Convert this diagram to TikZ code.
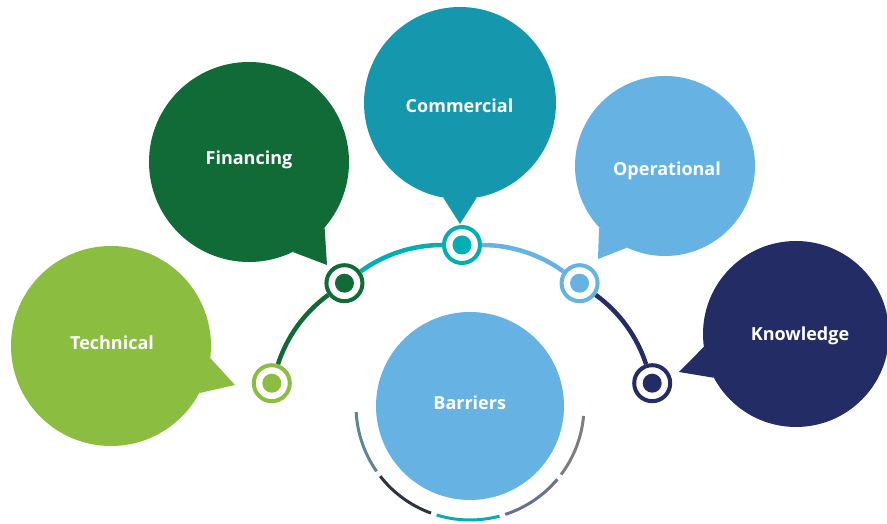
\documentclass[tikz,border=0pt]{standalone}
\usepackage{fontspec}
\setmainfont{Open Sans}
\usepackage{tikz}
\definecolor{techgreen}{HTML}{8BBD41}
\definecolor{fingreen}{HTML}{106B37}
\definecolor{comteal}{HTML}{1598AD}
\definecolor{ringteal}{HTML}{00AEB3}
\definecolor{opblue}{HTML}{66B3E3}
\definecolor{knownavy}{HTML}{242C65}
\definecolor{rimslate}{HTML}{5E8692}
\definecolor{rimdark}{HTML}{2E3340}
\definecolor{rimblue}{HTML}{687090}
\definecolor{rimgrey}{HTML}{7D7D7D}

\begin{document}
\begin{tikzpicture}[x=1pt, y=1pt,
  bubble/.style={circle, fill=#1, inner sep=0pt},
  % fixed height/depth so the node centre is the middle of the capitals
  caption/.style={text=white, inner sep=0pt, text height=12.8pt, text depth=0pt,
    font=\bfseries\fontsize{18}{20}\selectfont},
  ring/.style={circle, draw=#1, fill=white, line width=4pt, inner sep=0pt,
    minimum size=36pt,
    path picture={\fill[#1] (path picture bounding box.center) circle (9.5pt);}},
  link/.style={draw=#1, line width=4.5pt},
  rim/.style={draw=#1, line width=3pt}]

  \useasboundingbox (0,0) rectangle (887,524);

  % the topic bubbles, one centre each, radius from the picture
  \node[bubble=techgreen, minimum size=200pt] (tech) at (111,178) {};
  \node[bubble=fingreen,  minimum size=200pt] (fin)  at (249,362) {};
  \node[bubble=comteal,   minimum size=192pt] (com)  at (460,421) {};
  \node[bubble=opblue,    minimum size=180pt] (op)   at (665,358) {};
  \node[bubble=knownavy,  minimum size=186pt] (know) at (796,190) {};
  \node[bubble=opblue,    minimum size=188pt] (bar)  at (470,118) {};

  % speech tails; the tips stop just short of the rings
  \coordinate (techtip) at (235,139);
  \coordinate (fintip)  at (327,259);
  \coordinate (comtip)  at (460,300);
  \coordinate (optip)   at (598,265);
  \coordinate (knowtip) at (679,152);
  \fill[techgreen] (tech.-7)   -- (tech.-28)   -- (techtip) -- cycle;
  \fill[fingreen]  (fin.-41)   -- (fin.-64)    -- (fintip)  -- cycle;
  \fill[comteal]   (com.-100)  -- (com.-80)    -- (comtip)  -- cycle;
  \fill[opblue]    (op.-137)   -- (op.-115)    -- (optip)   -- cycle;
  \fill[knownavy]  (know.188)  -- (know.208)   -- (knowtip) -- cycle;

  % the words are not quite at the bubble centres
  \node[caption] (techtxt) at (112,180.7)   {Technical};
  \node[caption] (fintxt)  at (249,366.2)   {Financing};
  \node[caption] (comtxt)  at (459.5,417.8) {Commercial};
  \node[caption] (optxt)   at (667,355.3)   {Operational};
  \node[caption] (knowtxt) at (800,189.7)   {Knowledge};
  \node[caption] (bartxt)  at (469.7,121.2) {Barriers};

  % rings sit every 36 degrees on one big circle below Commercial
  \coordinate (hub) at (462,79);
  \foreach \nm/\ang/\col in {rtech/162/techgreen, rfin/126/fingreen,
      rcom/90/ringteal, rop/54/opblue, rknow/18/knownavy}
    \node[ring=\col] (\nm) at ([shift={(\ang:200)}]hub) {};

  \draw[link=fingreen] (rtech) to[bend left=18, looseness=0.87] (rfin);
  \draw[link=ringteal] (rfin)  to[bend left=18, looseness=0.87] (rcom);
  \draw[link=opblue]   (rcom)  to[bend left=18, looseness=0.87] (rop);
  \draw[link=knownavy] (rop)   to[bend left=18, looseness=0.87] (rknow);

  % broken rim under Barriers
  \foreach \a/\col in {183/rimslate, 218/rimdark, 253/ringteal, 288/rimblue, 323/rimgrey}
    \draw[rim=\col] ([shift={(\a:114)}]bar.center) arc[start angle=\a, delta angle=32, radius=114];

\end{tikzpicture}
\end{document}
